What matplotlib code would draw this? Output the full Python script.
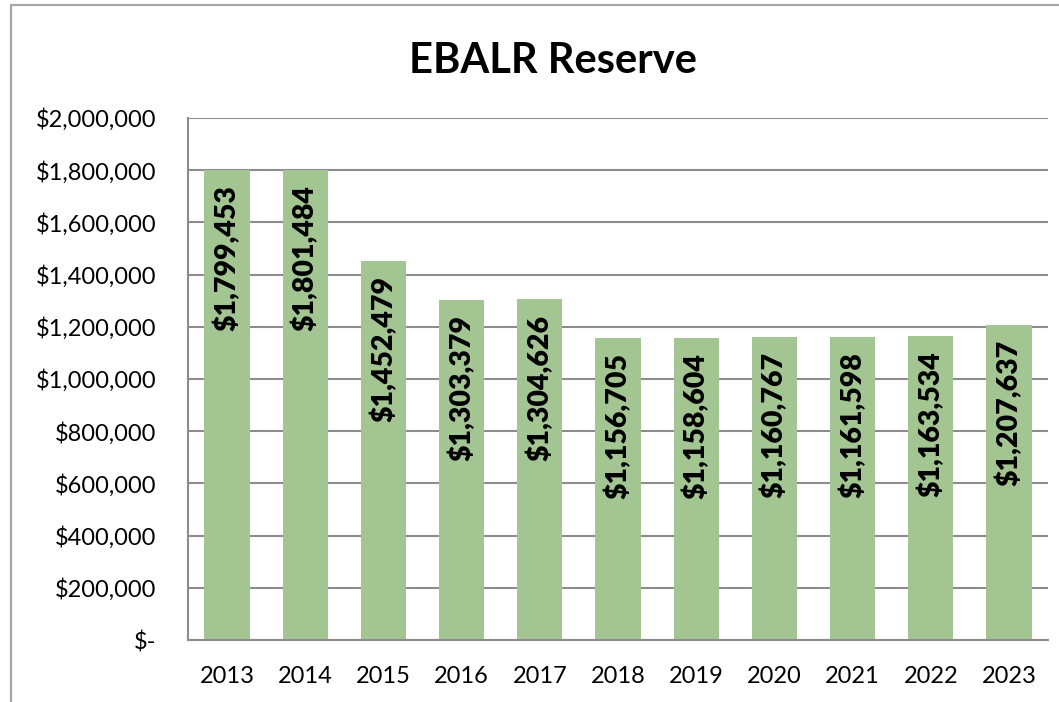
import matplotlib.pyplot as plt
import matplotlib.ticker as mticker
from matplotlib.patches import Rectangle

years = ["2013", "2014", "2015", "2016", "2017", "2018",
         "2019", "2020", "2021", "2022", "2023"]
reserve = [1799453, 1801484, 1452479, 1303379, 1304626, 1156705,
           1158604, 1160767, 1161598, 1163534, 1207637]
y_ticks = [0, 200000, 400000, 600000, 800000, 1000000,
           1200000, 1400000, 1600000, 1800000, 2000000]

plt.rcParams['font.family'] = ['Lato', 'DejaVu Sans']

W, H = 1059, 702
fig = plt.figure(figsize=(W / 100, H / 100), dpi=100)
ax = fig.add_axes([188 / W, 1 - 640 / H, (1048 - 188) / W, (640 - 118) / H])

# outer chart border (cut off on right/bottom like the screenshot)
fig.patches.append(Rectangle((11 / W, -0.1), 1.2, (1 - 5 / H) + 0.1,
                             transform=fig.transFigure, fill=False,
                             edgecolor="#a6a6a6", linewidth=1.6))

x = range(len(years))
bars = ax.bar(x, reserve, width=0.58, color="#a2c592", zorder=2)

for rect, val in zip(bars, reserve):
    ax.annotate(f"${val:,.0f}", (rect.get_x() + rect.get_width() / 2, rect.get_height()),
                xytext=(0, -11), textcoords="offset points",
                rotation=90, ha="center", va="top",
                fontsize=20.5, fontweight="heavy", color="black", zorder=3)

ax.set_xlim(-0.5, len(years) - 0.5)
ax.set_ylim(0, 2000000)
ax.set_yticks(y_ticks)
ax.yaxis.set_major_formatter(mticker.FuncFormatter(
    lambda v, p: "$-" if v == 0 else f"${v:,.0f}"))
ax.set_xticks(list(x))
ax.set_xticklabels(years)
ax.tick_params(axis="both", length=0, labelsize=17, colors="black")
ax.tick_params(axis="y", pad=23)
ax.tick_params(axis="x", pad=19)

ax.grid(axis="y", color="#8c8c8c", linewidth=1.5, zorder=1)
for side in ["top", "right"]:
    ax.spines[side].set_visible(False)
for side in ["left", "bottom"]:
    ax.spines[side].set_color("#8c8c8c")
    ax.spines[side].set_linewidth(1.5)

fig.text(553 / W, 1 - 61 / H, "EBALR Reserve", ha="center", va="center",
         fontsize=30, fontweight="bold")

fig.savefig("out.png", dpi=100)
